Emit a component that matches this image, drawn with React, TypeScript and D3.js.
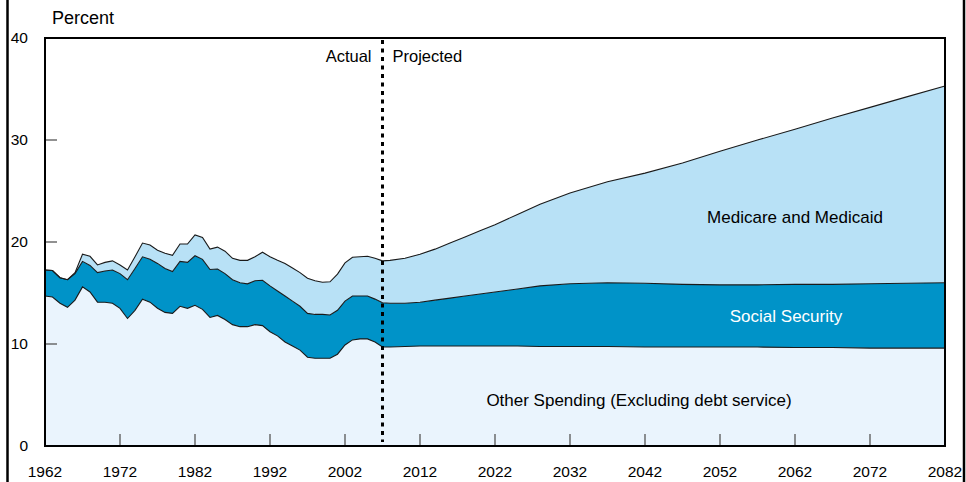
import React from 'react';
import * as d3 from 'd3';

// values, percent of GDP
const years = [
  1962, 1963, 1964, 1965, 1966, 1967, 1968, 1969, 1970, 1971, 1972, 1973, 1974, 1975, 1976, 1977,
  1978, 1979, 1980, 1981, 1982, 1983, 1984, 1985, 1986, 1987, 1988, 1989, 1990, 1991, 1992, 1993,
  1994, 1995, 1996, 1997, 1998, 1999, 2000, 2001, 2002, 2003, 2004, 2005, 2006, 2007,
  2008, 2010, 2012, 2014, 2016, 2018, 2020, 2022, 2025, 2028, 2032, 2037, 2042, 2047, 2052, 2057,
  2062, 2067, 2072, 2077, 2082,
];
const otherSpending = [
  14.7, 14.6, 14.0, 13.6, 14.3, 15.6, 15.1, 14.1, 14.1, 14.0, 13.5, 12.5, 13.3, 14.4, 14.1, 13.5,
  13.1, 13.0, 13.7, 13.5, 13.8, 13.4, 12.6, 12.8, 12.4, 11.9, 11.7, 11.7, 11.9, 11.8, 11.2, 10.8,
  10.2, 9.8, 9.4, 8.7, 8.6, 8.6, 8.6, 9.0, 9.9, 10.4, 10.5, 10.5, 10.2, 9.7,
  9.7, 9.75, 9.8, 9.8, 9.8, 9.8, 9.8, 9.8, 9.8, 9.75, 9.75, 9.75, 9.7, 9.7, 9.7, 9.7,
  9.65, 9.65, 9.6, 9.6, 9.6,
];
const socialSecurity = [
  2.55, 2.6, 2.5, 2.7, 2.6, 2.5, 2.6, 2.9, 3.05, 3.25, 3.4, 3.8, 4.1, 4.15, 4.2, 4.4,
  4.3, 4.1, 4.4, 4.5, 4.85, 4.9, 4.7, 4.55, 4.5, 4.4, 4.3, 4.2, 4.3, 4.45, 4.5, 4.4,
  4.5, 4.4, 4.3, 4.3, 4.3, 4.3, 4.25, 4.3, 4.3, 4.3, 4.2, 4.2, 4.2, 4.35,
  4.3, 4.25, 4.3, 4.5, 4.7, 4.9, 5.1, 5.3, 5.6, 5.95, 6.15, 6.25, 6.25, 6.15, 6.1, 6.1,
  6.2, 6.2, 6.3, 6.35, 6.4,
];
const medicareMedicaid = [
  0, 0, 0, 0, 0.1, 0.7, 0.9, 0.75, 0.85, 0.9, 0.85, 0.95, 1.15, 1.35, 1.4, 1.3,
  1.5, 1.6, 1.7, 1.8, 2.05, 2.15, 2.0, 2.15, 2.2, 2.1, 2.2, 2.3, 2.35, 2.75, 2.85, 3.0,
  3.2, 3.25, 3.3, 3.45, 3.3, 3.15, 3.25, 3.55, 3.75, 3.8, 3.85, 3.9, 4.0, 4.1,
  4.2, 4.4, 4.7, 5.0, 5.4, 5.8, 6.2, 6.6, 7.3, 8.0, 8.9, 9.9, 10.8, 11.9, 13.1, 14.2,
  15.2, 16.3, 17.3, 18.3, 19.3,
];
const xTicks = [1962, 1972, 1982, 1992, 2002, 2012, 2022, 2032, 2042, 2052, 2062, 2072, 2082];
const yTicks = [0, 10, 20, 30, 40];
const splitYear = 2007;

const keys = ['other', 'ss', 'med'];
const fills: Record<string, string> = { other: '#eaf4fd', ss: '#0093c8', med: '#b8e1f6' };

const W = 966, H = 482;
const margin = { top: 38, right: 21, bottom: 36, left: 45 };
const font = '"Liberation Sans", Arial, sans-serif';

export default function App() {
  const x = d3.scaleLinear().domain([1962, 2082]).range([margin.left, W - margin.right]);
  const y = d3.scaleLinear().domain([0, 40]).range([H - margin.bottom, margin.top]);

  const rows = years.map((yr, i) => ({
    year: yr,
    other: otherSpending[i],
    ss: socialSecurity[i],
    med: medicareMedicaid[i],
  }));
  const series = d3.stack<any>().keys(keys)(rows);

  const area = d3.area<any>()
    .x(d => x(d.data.year))
    .y0(d => y(d[0]))
    .y1(d => y(d[1]));
  const topLine = d3.line<any>()
    .x(d => x(d.data.year))
    .y(d => y(d[1]));

  const x0 = x(1962), x1 = x(2082), yB = y(0), yT = y(40);

  return (
    <svg width={W} height={H} style={{ position: 'absolute', left: 0, top: 0, display: 'block' }}
      fontFamily={font}>
      <rect x={0} y={0} width={W} height={H} fill="#fff" />
      {series.map(s => (
        <path key={s.key} d={area(s) || ''} fill={fills[s.key]} stroke="none" />
      ))}
      {series.map(s => (
        <path key={s.key + '-l'} d={topLine(s) || ''} fill="none" stroke="#1a1a1a" strokeWidth={1.1} />
      ))}

      {/* ticks */}
      {xTicks.slice(1, -1).map(t => (
        <line key={'xt' + t} x1={x(t)} x2={x(t)} y1={yB} y2={yB - 12} stroke="#555" strokeWidth={1.3} />
      ))}
      {yTicks.slice(1, -1).map(t => (
        <line key={'yt' + t} x1={x0} x2={x0 + 12} y1={y(t)} y2={y(t)} stroke="#555" strokeWidth={1.3} />
      ))}

      <line x1={x(splitYear)} x2={x(splitYear)} y1={yT + 2} y2={yB - 4}
        stroke="#000" strokeWidth={3} strokeDasharray="4,4.5" />

      <rect x={x0} y={yT} width={x1 - x0} height={yB - yT} fill="none" stroke="#000" strokeWidth={2} />

      {/* tick labels */}
      {xTicks.map(t => (
        <text key={'xl' + t} x={x(t)} y={477} fontSize={15.5} textAnchor="middle" fill="#000">{t}</text>
      ))}
      {yTicks.map(t => (
        <text key={'yl' + t} x={28} y={y(t) + 5} fontSize={15.5} textAnchor="end" fill="#000">{t}</text>
      ))}

      <text x={52} y={24} fontSize={18} fill="#000">Percent</text>
      <text x={x(splitYear) - 11} y={62} fontSize={16.5} textAnchor="end" fill="#000">Actual</text>
      <text x={x(splitYear) + 10} y={62} fontSize={16.5} fill="#000">Projected</text>

      <text x={795} y={223} fontSize={17} textAnchor="middle" fill="#000">Medicare and Medicaid</text>
      <text x={786} y={322} fontSize={17} textAnchor="middle" fill="#fff">Social Security</text>
      <text x={639} y={406} fontSize={17} textAnchor="middle" fill="#000">Other Spending (Excluding debt service)</text>

      {/* frame edges */}
      <line x1={7.5} x2={7.5} y1={0} y2={H} stroke="#000" strokeWidth={2.5} />
      <line x1={964} x2={964} y1={0} y2={H} stroke="#000" strokeWidth={2.5} />
    </svg>
  );
}
